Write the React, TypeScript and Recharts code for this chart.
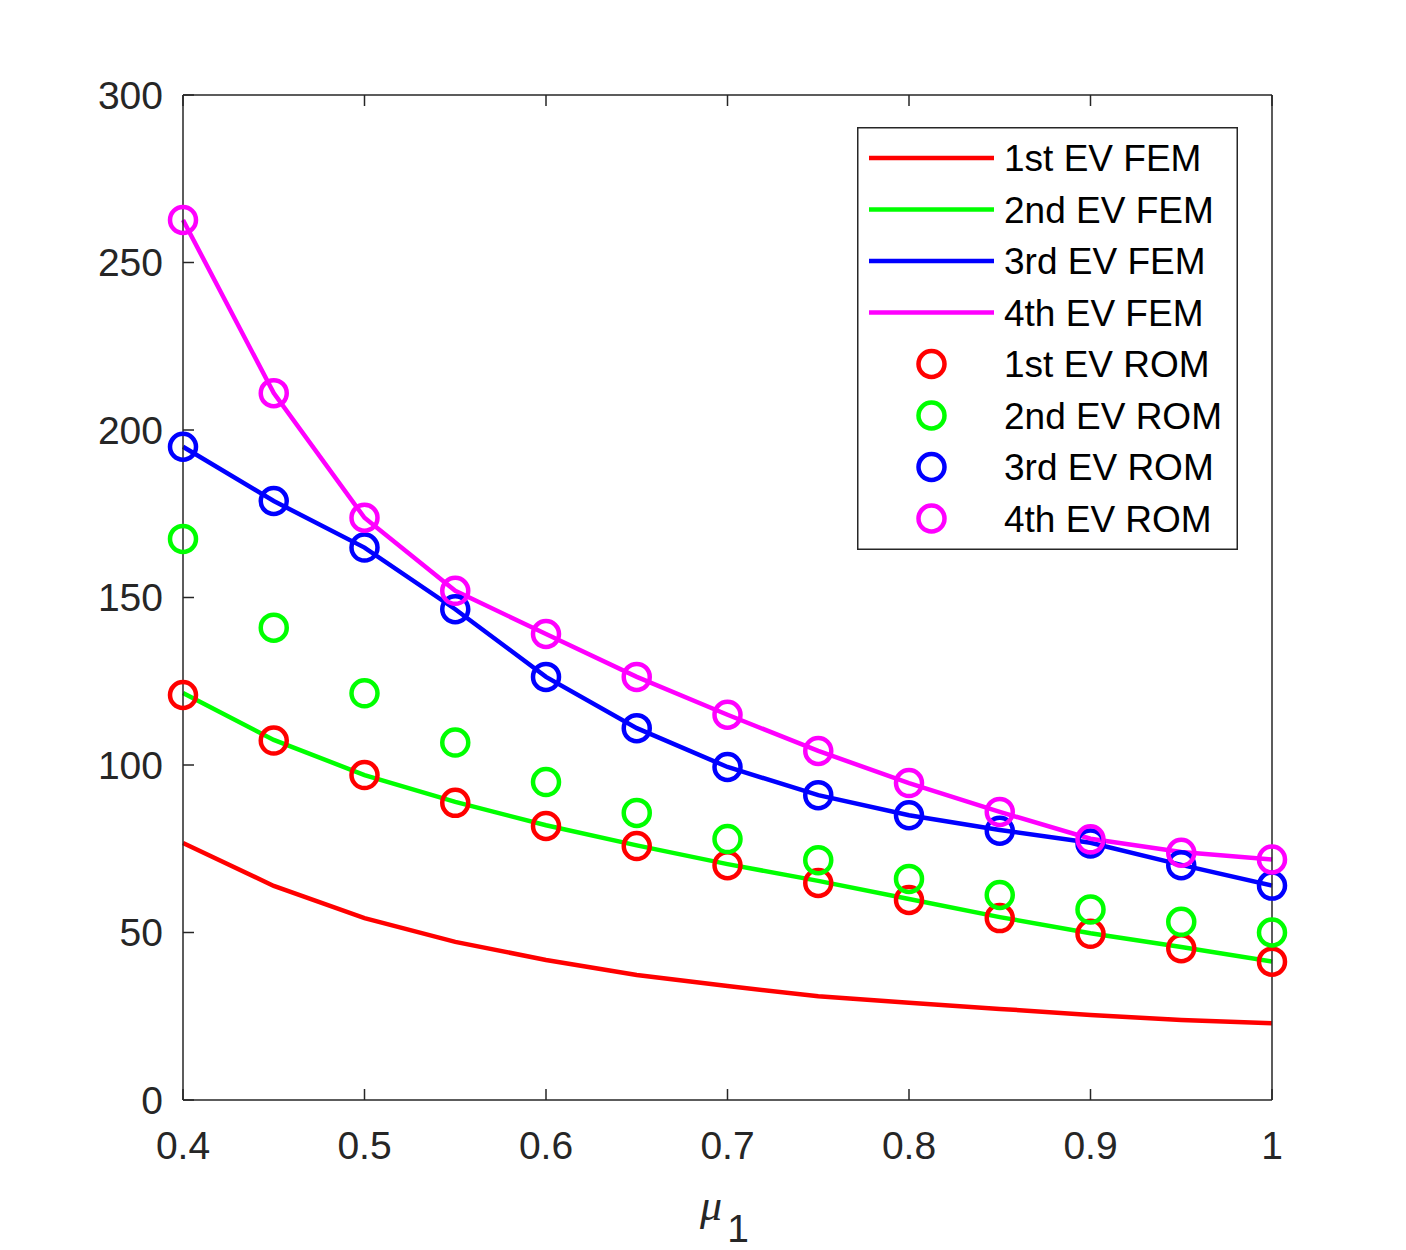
import { ComposedChart, Line, XAxis, YAxis, Legend } from "recharts";

const mu = [0.4, 0.45, 0.5, 0.55, 0.6, 0.65, 0.7, 0.75, 0.8, 0.85, 0.9, 0.95, 1];

const fem1 = [76.7, 63.9, 54.3, 47.2, 41.8, 37.3, 34.0, 31.0, 29.0, 27.2, 25.4, 23.9, 22.9];
const fem2 = [121.5, 107.5, 97.0, 89.0, 82.0, 76.0, 70.4, 65.4, 60.0, 54.6, 49.8, 45.7, 41.3];
const fem3 = [195.0, 178.8, 164.9, 146.5, 126.3, 111.0, 99.4, 91.0, 85.0, 80.6, 76.8, 70.2, 64.0];
const fem4 = [262.7, 211.0, 173.8, 152.0, 139.1, 126.3, 115.0, 104.2, 94.6, 86.0, 78.0, 74.0, 71.8];

const rom1 = [120.9, 107.3, 97.0, 88.7, 81.8, 75.8, 70.1, 64.8, 59.7, 54.3, 49.6, 45.3, 41.3];
const rom2 = [167.5, 141.0, 121.4, 106.7, 94.9, 85.7, 77.9, 71.6, 66.0, 61.2, 56.9, 53.2, 50.0];
const rom3 = [195.0, 178.8, 164.9, 146.5, 126.3, 111.0, 99.4, 91.0, 85.0, 80.4, 76.6, 70.1, 64.0];
const rom4 = [262.7, 211.0, 173.8, 152.0, 139.1, 126.3, 115.0, 104.2, 94.6, 86.0, 77.8, 73.8, 71.8];

const xTicks = [0.4, 0.5, 0.6, 0.7, 0.8, 0.9, 1];
const yTicks = [0, 50, 100, 150, 200, 250, 300];

const RED = "#ff0000";
const GREEN = "#00ff00";
const BLUE = "#0000ff";
const MAGENTA = "#ff00ff";
const AXIS = "#262626";
const FONT = "'Liberation Sans', Arial, Helvetica, sans-serif";

const femSeries = [
  { key: "fem1", name: "1st EV FEM", color: RED },
  { key: "fem2", name: "2nd EV FEM", color: GREEN },
  { key: "fem3", name: "3rd EV FEM", color: BLUE },
  { key: "fem4", name: "4th EV FEM", color: MAGENTA },
];
const romSeries = [
  { key: "rom1", name: "1st EV ROM", color: RED },
  { key: "rom2", name: "2nd EV ROM", color: GREEN },
  { key: "rom3", name: "3rd EV ROM", color: BLUE },
  { key: "rom4", name: "4th EV ROM", color: MAGENTA },
];

const data = mu.map((m, i) => ({
  mu: m,
  fem1: fem1[i],
  fem2: fem2[i],
  fem3: fem3[i],
  fem4: fem4[i],
  rom1: rom1[i],
  rom2: rom2[i],
  rom3: rom3[i],
  rom4: rom4[i],
}));

const tickStyle = { fill: AXIS, fontSize: 39, fontFamily: FONT };

function circleDot(color: string) {
  return (p: any) => (
    <circle
      key={`${color}-${p.index}`}
      cx={p.cx}
      cy={p.cy}
      r={13}
      fill="none"
      stroke={color}
      strokeWidth={4.5}
    />
  );
}

function LegendBox() {
  const rowH = 51.5;
  const rows = [
    ...femSeries.map(s => ({ ...s, kind: "line" })),
    ...romSeries.map(s => ({ ...s, kind: "marker" })),
  ];
  return (
    <svg width={381} height={423} style={{ display: "block" }}>
      <rect x={0.75} y={0.75} width={379.5} height={421.5} fill="#fff" stroke={AXIS} strokeWidth={1.5} />
      {rows.map((r, i) => {
        const cy = 31 + i * rowH;
        return (
          <g key={r.key}>
            {r.kind === "line" ? (
              <line x1={12} x2={137} y1={cy} y2={cy} stroke={r.color} strokeWidth={4.5} />
            ) : (
              <circle cx={74.5} cy={cy} r={13} fill="none" stroke={r.color} strokeWidth={4.5} />
            )}
            <text x={147} y={cy + 13} fontSize={37} fontFamily={FONT} fill="#000">
              {r.name}
            </text>
          </g>
        );
      })}
    </svg>
  );
}

function MuLabel(props: any) {
  const vb = props.viewBox;
  const cx = vb.x + vb.width / 2;
  return (
    <text x={cx - 3} y={vb.y + 120} textAnchor="middle" fill={AXIS} fontSize={44}>
      <tspan fontStyle="italic" fontFamily="'Liberation Serif', 'DejaVu Serif', serif">μ</tspan>
      <tspan dx={5} dy={22} fontFamily={FONT} fontSize={39}>1</tspan>
    </text>
  );
}

export default function App() {
  return (
    <div style={{ position: "absolute", left: 0, top: 0, background: "#fff" }}>
      <ComposedChart
        width={1406}
        height={1250}
        data={data}
        margin={{ top: 85, right: 124, bottom: 90, left: 103 }}
      >
        <XAxis
          xAxisId="b"
          dataKey="mu"
          type="number"
          domain={[0.4, 1]}
          ticks={xTicks}
          tickFormatter={(v: number) => String(v)}
          height={60}
          stroke={AXIS}
          strokeWidth={1.5}
          tickSize={-11}
          tickMargin={42}
          tick={tickStyle}
          label={<MuLabel />}
        />
        <XAxis
          xAxisId="t"
          dataKey="mu"
          type="number"
          orientation="top"
          domain={[0.4, 1]}
          ticks={xTicks}
          tickFormatter={() => ""}
          height={10}
          stroke={AXIS}
          strokeWidth={1.5}
          tickSize={-11}
        />
        <YAxis
          yAxisId="l"
          type="number"
          domain={[0, 300]}
          ticks={yTicks}
          width={80}
          stroke={AXIS}
          strokeWidth={1.5}
          tickSize={-11}
          tickMargin={31}
          tick={tickStyle}
        />
        <YAxis
          yAxisId="r"
          orientation="right"
          type="number"
          domain={[0, 300]}
          ticks={yTicks}
          width={10}
          tickFormatter={() => ""}
          stroke={AXIS}
          strokeWidth={1.5}
          tickSize={-11}
        />
        <Legend
          layout="horizontal"
          align="center"
          verticalAlign="middle"
          content={() => <LegendBox />}
          wrapperStyle={{ left: 857, top: 127, width: 381, height: 423 }}
        />
        {femSeries.map(s => (
          <Line
            key={s.key}
            xAxisId="b"
            yAxisId="l"
            dataKey={s.key}
            name={s.name}
            stroke={s.color}
            strokeWidth={4.5}
            dot={false}
            activeDot={false}
            type="linear"
            isAnimationActive={false}
          />
        ))}
        {romSeries.map(s => (
          <Line
            key={s.key}
            xAxisId="b"
            yAxisId="l"
            dataKey={s.key}
            name={s.name}
            stroke="none"
            dot={circleDot(s.color)}
            activeDot={false}
            isAnimationActive={false}
          />
        ))}
      </ComposedChart>
    </div>
  );
}
